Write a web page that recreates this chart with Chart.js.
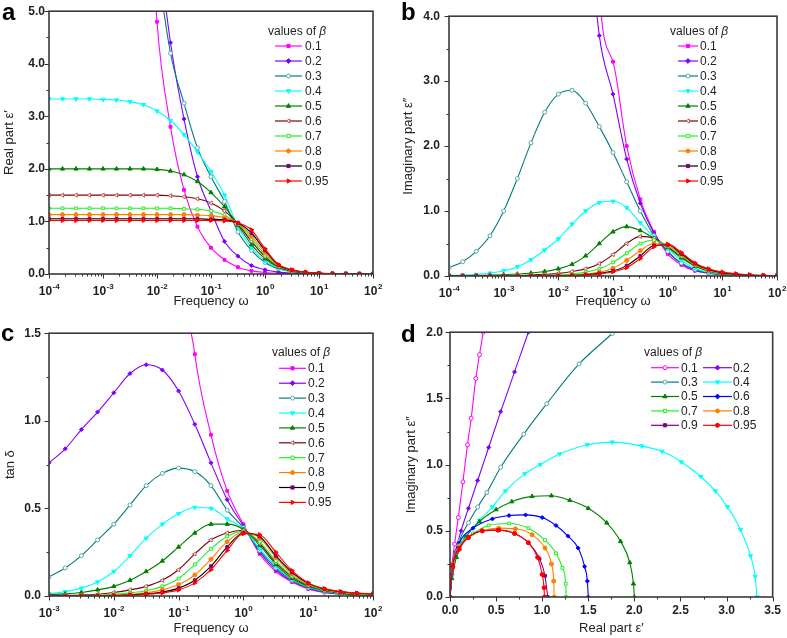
<!DOCTYPE html>
<html>
<head>
<meta charset="utf-8">
<script src="https://cdn.jsdelivr.net/npm/chart.js@4.4.1/dist/chart.umd.min.js"></script>
<style>
  body { margin: 0; background: #fff; width: 787px; height: 638px; position: relative; overflow: hidden; }
  canvas { position: absolute; }
  .tag { position: absolute; font: bold 24px Arial, "Liberation Sans", sans-serif; line-height: 24px; color: #000; z-index: 2; }
</style>
</head>
<body>
<div class="tag" style="left:2px;top:0px">a</div>
<div class="tag" style="left:401px;top:0px">b</div>
<div class="tag" style="left:1px;top:321px">c</div>
<div class="tag" style="left:401px;top:322px">d</div>
<canvas id="pa" width="393" height="318" style="left:0;top:0"></canvas>
<canvas id="pb" width="394" height="318" style="left:393px;top:0"></canvas>
<canvas id="pc" width="393" height="320" style="left:0;top:318px"></canvas>
<canvas id="pd" width="394" height="320" style="left:393px;top:318px"></canvas>
<script>
// ---- data ----
const betaLabels = ['0.1', '0.2', '0.3', '0.4', '0.5', '0.6', '0.7', '0.8', '0.9', '0.95'];

// frequencies for panels a and b (quarter decades, 1e-4 .. 1e2)
const freqAB = [1e-4, 1.78e-4, 3.16e-4, 5.62e-4, 1e-3, 1.78e-3, 3.16e-3, 5.62e-3,
  0.01, 0.0178, 0.0316, 0.0562, 0.1, 0.178, 0.316, 0.562, 1, 1.78, 3.16, 5.62,
  10, 17.8, 31.6, 56.2, 100];
// frequencies for panel c (1e-3 .. 1e2)
const freqC = [1e-3, 1.78e-3, 3.16e-3, 5.62e-3, 0.01, 0.0178, 0.0316, 0.0562, 0.1,
  0.178, 0.316, 0.562, 1, 1.78, 3.16, 5.62, 10, 17.8, 31.6, 56.2, 100];

// a: real part
const realPart = [
  [null, null, null, null, null, null, null, 9.5, 4.8, 2.8, 1.6, 0.9, 0.5, 0.27, 0.13, 0.06, 0.03, 0.014, 0.007, 0.003, 0.002, 0.001, 0, 0, 0],
  [null, null, null, null, null, null, 14, 9, 6.5, 4.4, 2.95, 1.85, 1.2, 0.62, 0.34, 0.16, 0.08, 0.035, 0.015, 0.007, 0.003, 0.001, 0, 0, 0],
  [null, null, null, null, null, null, 12, 8.5, 6.0, 4.2, 3.25, 2.4, 1.85, 1.38, 0.8, 0.45, 0.22, 0.1, 0.045, 0.02, 0.01, 0.005, 0.002, 0, 0],
  [3.33, 3.33, 3.33, 3.33, 3.32, 3.31, 3.28, 3.22, 3.1, 2.92, 2.65, 2.32, 1.95, 1.5, 0.9, 0.5, 0.25, 0.11, 0.05, 0.022, 0.01, 0.004, 0.002, 0, 0],
  [2.0, 2.0, 2.0, 2.0, 2.0, 2.0, 2.0, 2.0, 1.99, 1.96, 1.89, 1.76, 1.55, 1.28, 0.93, 0.56, 0.29, 0.13, 0.055, 0.025, 0.011, 0.005, 0.002, 0, 0],
  [1.5, 1.5, 1.5, 1.5, 1.5, 1.5, 1.5, 1.5, 1.5, 1.49, 1.47, 1.43, 1.35, 1.2, 0.95, 0.62, 0.33, 0.14, 0.06, 0.027, 0.012, 0.005, 0.002, 0, 0],
  [1.25, 1.25, 1.25, 1.25, 1.25, 1.25, 1.25, 1.25, 1.25, 1.25, 1.24, 1.23, 1.2, 1.12, 0.96, 0.67, 0.37, 0.15, 0.065, 0.03, 0.013, 0.006, 0.003, 0.001, 0],
  [1.13, 1.13, 1.13, 1.13, 1.13, 1.13, 1.13, 1.13, 1.13, 1.13, 1.13, 1.12, 1.11, 1.07, 0.97, 0.72, 0.41, 0.16, 0.07, 0.032, 0.014, 0.006, 0.003, 0.001, 0],
  [1.05, 1.05, 1.05, 1.05, 1.05, 1.05, 1.05, 1.05, 1.05, 1.05, 1.05, 1.05, 1.04, 1.03, 0.97, 0.78, 0.45, 0.17, 0.075, 0.034, 0.015, 0.007, 0.003, 0.001, 0],
  [1.02, 1.02, 1.02, 1.02, 1.02, 1.02, 1.02, 1.02, 1.02, 1.02, 1.02, 1.02, 1.02, 1.01, 0.97, 0.84, 0.48, 0.18, 0.08, 0.036, 0.016, 0.007, 0.003, 0.001, 0]
];

// b: imaginary part
const imagPart = [
  [null, null, null, null, null, null, null, null, null, null, 14, 4.4, 3.3, 2.0, 1.18, 0.68, 0.34, 0.17, 0.08, 0.04, 0.02, 0.01, 0.005, 0.002, 0.001],
  [null, null, null, null, null, null, null, null, null, 9, 6.0, 3.7, 2.8, 1.8, 1.12, 0.66, 0.37, 0.19, 0.09, 0.045, 0.022, 0.011, 0.005, 0.002, 0.001],
  [0.13, 0.22, 0.38, 0.62, 1.0, 1.5, 2.05, 2.52, 2.8, 2.86, 2.66, 2.3, 1.9, 1.45, 1.0, 0.62, 0.38, 0.2, 0.1, 0.05, 0.025, 0.012, 0.006, 0.003, 0.001],
  [0.01, 0.015, 0.025, 0.045, 0.08, 0.14, 0.25, 0.4, 0.57, 0.8, 1.0, 1.13, 1.15, 1.05, 0.82, 0.6, 0.42, 0.24, 0.12, 0.06, 0.03, 0.015, 0.007, 0.003, 0.001],
  [0.003, 0.005, 0.008, 0.013, 0.02, 0.03, 0.045, 0.07, 0.11, 0.18, 0.31, 0.5, 0.68, 0.76, 0.7, 0.58, 0.44, 0.28, 0.15, 0.075, 0.036, 0.018, 0.008, 0.004, 0.002],
  [0.001, 0.001, 0.002, 0.003, 0.005, 0.008, 0.015, 0.025, 0.04, 0.07, 0.11, 0.19, 0.33, 0.5, 0.61, 0.58, 0.45, 0.3, 0.16, 0.08, 0.04, 0.02, 0.01, 0.005, 0.002],
  [0, 0, 0.001, 0.001, 0.002, 0.003, 0.005, 0.009, 0.015, 0.03, 0.06, 0.11, 0.21, 0.35, 0.5, 0.55, 0.46, 0.31, 0.17, 0.085, 0.042, 0.021, 0.01, 0.005, 0.002],
  [0, 0, 0, 0.001, 0.001, 0.002, 0.003, 0.005, 0.008, 0.015, 0.03, 0.06, 0.12, 0.24, 0.39, 0.5, 0.47, 0.33, 0.18, 0.09, 0.045, 0.023, 0.011, 0.006, 0.003],
  [0, 0, 0, 0, 0.001, 0.001, 0.002, 0.003, 0.005, 0.01, 0.02, 0.04, 0.08, 0.16, 0.31, 0.47, 0.48, 0.34, 0.19, 0.1, 0.05, 0.026, 0.013, 0.007, 0.003],
  [0, 0, 0, 0, 0, 0.001, 0.001, 0.002, 0.004, 0.008, 0.015, 0.03, 0.065, 0.13, 0.27, 0.45, 0.49, 0.36, 0.2, 0.11, 0.06, 0.035, 0.02, 0.012, 0.007]
];

// c: loss tangent
const tanDelta = [
  [null, null, null, null, null, null, null, 6, 2.3, 1.38, 0.92, 0.6, 0.41, 0.24, 0.14, 0.08, 0.04, 0.02, 0.01, 0.005, 0.003],
  [0.76, 0.84, 0.95, 1.05, 1.16, 1.27, 1.32, 1.29, 1.17, 0.98, 0.76, 0.55, 0.4, 0.25, 0.15, 0.085, 0.045, 0.022, 0.011, 0.006, 0.003],
  [0.11, 0.16, 0.23, 0.32, 0.41, 0.52, 0.63, 0.7, 0.73, 0.71, 0.63, 0.49, 0.39, 0.26, 0.16, 0.09, 0.048, 0.025, 0.013, 0.007, 0.004],
  [0.014, 0.025, 0.045, 0.08, 0.14, 0.23, 0.33, 0.41, 0.47, 0.505, 0.5, 0.44, 0.385, 0.27, 0.17, 0.095, 0.052, 0.027, 0.014, 0.008, 0.005],
  [0.008, 0.012, 0.02, 0.035, 0.055, 0.09, 0.14, 0.2, 0.28, 0.36, 0.41, 0.41, 0.38, 0.29, 0.18, 0.1, 0.056, 0.03, 0.016, 0.009, 0.006],
  [0.003, 0.004, 0.006, 0.01, 0.02, 0.035, 0.055, 0.09, 0.15, 0.24, 0.32, 0.36, 0.375, 0.3, 0.19, 0.11, 0.06, 0.033, 0.018, 0.01, 0.007],
  [0.001, 0.002, 0.003, 0.005, 0.01, 0.018, 0.03, 0.055, 0.1, 0.18, 0.27, 0.34, 0.37, 0.31, 0.2, 0.115, 0.064, 0.035, 0.02, 0.012, 0.008],
  [0.001, 0.001, 0.002, 0.003, 0.005, 0.01, 0.018, 0.035, 0.065, 0.12, 0.21, 0.31, 0.365, 0.33, 0.22, 0.125, 0.068, 0.038, 0.022, 0.014, 0.009],
  [0, 0.001, 0.001, 0.002, 0.003, 0.006, 0.012, 0.022, 0.045, 0.09, 0.17, 0.28, 0.36, 0.34, 0.23, 0.135, 0.072, 0.04, 0.024, 0.016, 0.011],
  [0, 0, 0.001, 0.001, 0.002, 0.005, 0.01, 0.018, 0.035, 0.075, 0.15, 0.26, 0.355, 0.35, 0.25, 0.145, 0.075, 0.042, 0.025, 0.017, 0.012]
];

// d: Cole-Cole plot, real (x) and imaginary (y) parts
const arcRe = [
  [0, 0.015, 0.05, 0.09, 0.14, 0.19, 0.23, 0.28, 0.32, 0.36, 0.4],
  [0, 0.02, 0.06, 0.12, 0.2, 0.3, 0.42, 0.55, 0.7, 0.85, 0.95],
  [0, 0.03, 0.1, 0.2, 0.3, 0.4, 0.55, 0.8, 1.05, 1.4, 1.76, 1.85],
  [0, 0.015, 0.07, 0.17, 0.32, 0.46, 0.6, 0.81, 0.98, 1.19, 1.49, 1.76, 2.08, 2.3, 2.51, 2.72, 2.88, 3.01, 3.15, 3.26, 3.31, 3.33],
  [0, 0.02, 0.07, 0.17, 0.32, 0.5, 0.67, 0.89, 1.1, 1.3, 1.5, 1.7, 1.85, 1.95, 1.99, 2.0],
  [0, 0.03, 0.1, 0.25, 0.46, 0.64, 0.82, 1.0, 1.15, 1.28, 1.39, 1.46, 1.49, 1.5],
  [0, 0.03, 0.1, 0.25, 0.42, 0.64, 0.85, 1.03, 1.15, 1.22, 1.255, 1.26],
  [0, 0.03, 0.1, 0.2, 0.35, 0.53, 0.71, 0.89, 1.03, 1.1, 1.125, 1.13],
  [0, 0.03, 0.1, 0.2, 0.35, 0.53, 0.7, 0.85, 0.97, 1.03, 1.06],
  [0, 0.03, 0.1, 0.2, 0.35, 0.52, 0.7, 0.85, 0.95, 1.0, 1.02, 1.025]
];
const arcIm = [
  [0, 0.19, 0.4, 0.6, 0.87, 1.15, 1.35, 1.65, 1.83, 2.0, 2.2],
  [0, 0.17, 0.34, 0.5, 0.67, 0.88, 1.13, 1.4, 1.7, 2.0, 2.2],
  [0, 0.22, 0.42, 0.56, 0.68, 0.79, 0.98, 1.23, 1.46, 1.76, 1.99, 2.05],
  [0, 0.15, 0.33, 0.46, 0.58, 0.68, 0.8, 0.93, 1.0, 1.08, 1.15, 1.17, 1.14, 1.1, 1.02, 0.91, 0.8, 0.68, 0.51, 0.31, 0.155, 0],
  [0, 0.14, 0.3, 0.45, 0.57, 0.66, 0.72, 0.76, 0.765, 0.73, 0.67, 0.56, 0.42, 0.26, 0.1, 0],
  [0, 0.25, 0.41, 0.52, 0.59, 0.615, 0.62, 0.6, 0.54, 0.46, 0.37, 0.23, 0.12, 0],
  [0, 0.25, 0.39, 0.48, 0.54, 0.555, 0.52, 0.43, 0.33, 0.22, 0.1, 0],
  [0, 0.25, 0.38, 0.45, 0.5, 0.52, 0.515, 0.47, 0.37, 0.25, 0.12, 0],
  [0, 0.24, 0.37, 0.45, 0.5, 0.505, 0.48, 0.41, 0.29, 0.16, 0],
  [0, 0.23, 0.36, 0.45, 0.5, 0.505, 0.48, 0.41, 0.3, 0.17, 0.07, 0]
];

// tick labels
const expAB = ['-4', '-3', '-2', '-1', '0', '1', '2'];
const expC = ['-3', '-2', '-1', '0', '1', '2'];

// ---- styles ----
const FONT = 'Arial, "Liberation Sans", sans-serif';
Chart.defaults.font.family = FONT;

// panels a-c
const lineCol = ['#ff00ff', '#8000ff', '#007c7c', '#00ffff', '#008000', '#800000', '#22ee22', '#ff8000', '#000000', '#ff0000'];
const markCol = ['#ff00ff', '#8000ff', '#5aa8a8', '#00ffff', '#008000', '#b05a5a', '#22ee22', '#ff8000', '#800080', '#ff0000'];
const markShape = ['rect', 'rectRot', 'circle', 'triangle', 'triangle', 'triangle', 'rect', 'circle', 'rect', 'triangle'];
const markRot = [0, 0, 0, 180, 0, -90, 0, 0, 0, 90];
const markOpen = [false, false, true, false, false, true, true, false, false, false];
// panel d
const arcLine = ['#ff00ff', '#8000ff', '#007c7c', '#00ffff', '#008000', '#0000ff', '#22ee22', '#ff8000', '#800080', '#ff0000'];
const arcMark = ['#ff00ff', '#8000ff', '#5aa8a8', '#00ffff', '#008000', '#0000ff', '#22ee22', '#ff8000', '#800080', '#ff0000'];
const arcShape = ['circle', 'rectRot', 'circle', 'triangle', 'triangle', 'rectRot', 'rect', 'circle', 'rect', 'circle'];
const arcRot = [0, 0, 0, 180, 0, 0, 0, 0, 0, 0];
const arcOpen = [true, false, true, false, false, false, true, false, false, false];

function drawMark(ctx, shape, x, y, r, rot, fill, stroke) {
  ctx.save();
  ctx.translate(x, y);
  ctx.rotate(rot * Math.PI / 180);
  ctx.beginPath();
  if (shape === 'circle') {
    ctx.arc(0, 0, r, 0, Math.PI * 2);
  } else if (shape === 'rect') {
    ctx.rect(-r * 0.8, -r * 0.8, r * 1.6, r * 1.6);
  } else if (shape === 'rectRot') {
    ctx.moveTo(0, -r * 1.2); ctx.lineTo(r * 1.2, 0); ctx.lineTo(0, r * 1.2); ctx.lineTo(-r * 1.2, 0);
    ctx.closePath();
  } else {
    ctx.moveTo(0, -r * 1.2); ctx.lineTo(r * 1.05, r * 0.65); ctx.lineTo(-r * 1.05, r * 0.65);
    ctx.closePath();
  }
  ctx.fillStyle = fill;
  ctx.fill();
  ctx.strokeStyle = stroke;
  ctx.lineWidth = 1;
  ctx.stroke();
  ctx.restore();
}

// frame, tick marks, power-of-ten labels and the "values of β" legend
const decor = {
  id: 'decor',
  afterDraw(chart, args, o) {
    const {ctx, chartArea: ca} = chart;
    const xs = chart.scales.x, ys = chart.scales.y;
    ctx.save();
    ctx.strokeStyle = '#333';
    ctx.lineWidth = 1;
    ctx.beginPath();
    xs.ticks.forEach(t => {
      const p = Math.round(xs.getPixelForValue(t.value)) + 0.5;
      let major = !!t.label;
      if (o.exps) major = Math.abs(Math.log10(t.value) - Math.round(Math.log10(t.value))) < 1e-6;
      ctx.moveTo(p, ca.bottom);
      ctx.lineTo(p, ca.bottom + (major ? 4.5 : 2.5));
    });
    ys.ticks.forEach(t => {
      const p = Math.round(ys.getPixelForValue(t.value)) + 0.5;
      ctx.moveTo(ca.left, p);
      ctx.lineTo(ca.left - (t.label ? 4.5 : 2.5), p);
    });
    ctx.stroke();
    ctx.lineWidth = 1.6;
    ctx.strokeStyle = '#3a3a3a';
    ctx.strokeRect(ca.left, ca.top, ca.right - ca.left, ca.bottom - ca.top);

    // decade labels with raised exponents
    if (o.exps) {
      ctx.fillStyle = '#222';
      ctx.textBaseline = 'alphabetic';
      ctx.textAlign = 'left';
      o.exps.forEach(e => {
        const p = xs.getPixelForValue(Math.pow(10, +e));
        ctx.font = 'bold 12px ' + FONT;
        const w1 = ctx.measureText('10').width;
        ctx.font = 'bold 8px ' + FONT;
        const w2 = ctx.measureText(e).width;
        const x0 = p - (w1 + w2) / 2;
        ctx.font = 'bold 12px ' + FONT;
        ctx.fillText('10', x0, ca.bottom + 21);
        ctx.font = 'bold 8px ' + FONT;
        ctx.fillText(e, x0 + w1 + 0.5, ca.bottom + 14.5);
      });
    }

    // legend
    const L = o.legend;
    ctx.fillStyle = '#222';
    ctx.textBaseline = 'middle';
    ctx.textAlign = 'left';
    ctx.font = '12px ' + FONT;
    ctx.fillText('values of ', L.tx, L.ty);
    const wv = ctx.measureText('values of ').width;
    ctx.font = 'italic 12px ' + FONT;
    ctx.fillText('β', L.tx + wv, L.ty);
    ctx.font = '12px ' + FONT;
    chart.data.datasets.forEach((ds, i) => {
      const col = L.cols.length > 1 ? i % 2 : 0;
      const row = L.cols.length > 1 ? Math.floor(i / 2) : i;
      const c = L.cols[col];
      const y = L.y0 + row * L.dy;
      ctx.strokeStyle = ds.borderColor;
      ctx.lineWidth = 1.2;
      ctx.beginPath();
      ctx.moveTo(c[0], y); ctx.lineTo(c[1], y);
      ctx.stroke();
      drawMark(ctx, ds.pointStyle, (c[0] + c[1]) / 2, y, 2, ds.pointRotation,
        ds.pointBackgroundColor, ds.pointBorderColor);
      ctx.fillStyle = '#222';
      ctx.fillText(ds.label, c[2], y + 0.5);
    });
    ctx.restore();
  }
};

function logTicks(e0, e1) {
  const t = [];
  for (let e = e0; e < e1; e++) {
    for (let k = 1; k < 10; k++) t.push({value: k * Math.pow(10, e)});
  }
  t.push({value: Math.pow(10, e1)});
  return t;
}

function yAxis(o) {
  return {
    min: 0, max: o.ymax,
    afterFit: s => { s.width = o.yw; },
    grid: {display: false, drawTicks: false},
    border: {display: false},
    ticks: {
      stepSize: o.ystep, autoSkip: false, padding: o.ypad, color: '#222',
      font: {size: 12, weight: 'bold'},
      callback: v => (Math.abs(v / o.ymajor - Math.round(v / o.ymajor)) < 1e-6 ? v.toFixed(1) : '')
    },
    title: {display: true, text: o.ytitle, color: '#222', font: {size: 13}, padding: {top: o.ytp, bottom: 0}}
  };
}

function freqChart(id, rows, freqs, o) {
  const sets = rows.map((row, i) => ({
    label: betaLabels[i],
    data: freqs.map((f, j) => ({x: f, y: row[j]})),
    borderColor: lineCol[i],
    borderWidth: 1.1,
    pointStyle: markShape[i],
    pointRotation: markRot[i],
    pointRadius: markShape[i] === 'triangle' ? 2.4 : 2,
    pointBorderWidth: 1,
    pointBorderColor: markCol[i],
    pointBackgroundColor: markOpen[i] ? '#ffffff' : markCol[i],
    cubicInterpolationMode: 'monotone',
    spanGaps: false,
    order: 10 - i
  }));
  return new Chart(document.getElementById(id), {
    type: 'line',
    data: {datasets: sets},
    options: {
      responsive: false, animation: false, events: [],
      layout: {padding: o.pad},
      plugins: {legend: {display: false}, tooltip: {enabled: false}, decor: {exps: o.exps, legend: o.legend}},
      scales: {
        x: {
          type: 'logarithmic', min: freqs[0], max: freqs[freqs.length - 1],
          afterBuildTicks: s => { s.ticks = logTicks(o.e0, o.e1); },
          afterFit: s => { s.height = o.xh; },
          grid: {display: false, drawTicks: false},
          border: {display: false},
          ticks: {autoSkip: false, maxRotation: 0, callback: () => ''},
          title: {display: true, text: 'Frequency ω', color: '#222', font: {size: 13}, padding: {top: 0, bottom: o.xtp}}
        },
        y: yAxis(o)
      }
    },
    plugins: [decor]
  });
}

freqChart('pa', realPart, freqAB, {
  pad: {left: 0, top: 11, right: 20, bottom: 0}, yw: 49, xh: 44, xtp: 9,
  e0: -4, e1: 2, exps: expAB, ymax: 5, ystep: 0.5, ymajor: 1, ypad: 4, ytp: 2,
  ytitle: 'Real part ε\u2032',
  legend: {tx: 268, ty: 32, y0: 46, dy: 15, cols: [[275, 302, 305]]}
});
freqChart('pb', imagPart, freqAB, {
  pad: {left: 0, top: 11, right: 10, bottom: 0}, yw: 56, xh: 42, xtp: 9,
  e0: -4, e1: 2, exps: expAB, ymax: 4, ystep: 0.5, ymajor: 1, ypad: 9, ytp: 8,
  ytitle: 'Imaginary part ε\u2033',
  legend: {tx: 277, ty: 32, y0: 46, dy: 15, cols: [[285, 305, 307]]}
});
freqChart('pc', tanDelta, freqC, {
  pad: {left: 0, top: 14, right: 20, bottom: 0}, yw: 49, xh: 42, xtp: 2,
  e0: -3, e1: 2, exps: expC, ymax: 1.5, ystep: 0.25, ymajor: 0.5, ypad: 8, ytp: 3,
  ytitle: 'tan δ',
  legend: {tx: 272, ty: 35, y0: 50.3, dy: 14.9, cols: [[279, 306, 308]]}
});

// panel d
const arcSets = arcRe.map((xs, i) => ({
  label: betaLabels[i],
  data: xs.map((x, j) => ({x: x, y: arcIm[i][j]})),
  showLine: true,
  borderColor: arcLine[i],
  borderWidth: 1.1,
  pointStyle: arcShape[i],
  pointRotation: arcRot[i],
  pointRadius: arcShape[i] === 'triangle' ? 2.4 : 2,
  pointBorderWidth: 1,
  pointBorderColor: arcMark[i],
  pointBackgroundColor: arcOpen[i] ? '#ffffff' : arcMark[i],
  cubicInterpolationMode: 'monotone',
  order: 10 - i
}));
new Chart(document.getElementById('pd'), {
  type: 'scatter',
  data: {datasets: arcSets},
  options: {
    responsive: false, animation: false, events: [],
    layout: {padding: {left: 0, top: 14, right: 9, bottom: 0}},
    plugins: {
      legend: {display: false}, tooltip: {enabled: false},
      decor: {legend: {tx: 251, ty: 35, y0: 49.7, dy: 14.4, cols: [[258, 286, 288], [310, 339, 340]]}}
    },
    scales: {
      x: {
        type: 'linear', min: 0, max: 3.5,
        afterFit: s => { s.height = 41; },
        grid: {display: false, drawTicks: false},
        border: {display: false},
        ticks: {
          stepSize: 0.25, autoSkip: false, maxRotation: 0, padding: 6, color: '#222',
          font: {size: 12, weight: 'bold'},
          callback: v => (Math.abs(v * 2 - Math.round(v * 2)) < 1e-6 ? v.toFixed(1) : '')
        },
        title: {display: true, text: 'Real part ε\u2032', color: '#222', font: {size: 13}, padding: {top: 0, bottom: 2}}
      },
      y: yAxis({ymax: 2, yw: 57, ystep: 0.25, ymajor: 0.5, ypad: 7, ytp: 11, ytitle: 'Imaginary part ε\u2033'})
    }
  },
  plugins: [decor]
});
</script>
</body>
</html>
